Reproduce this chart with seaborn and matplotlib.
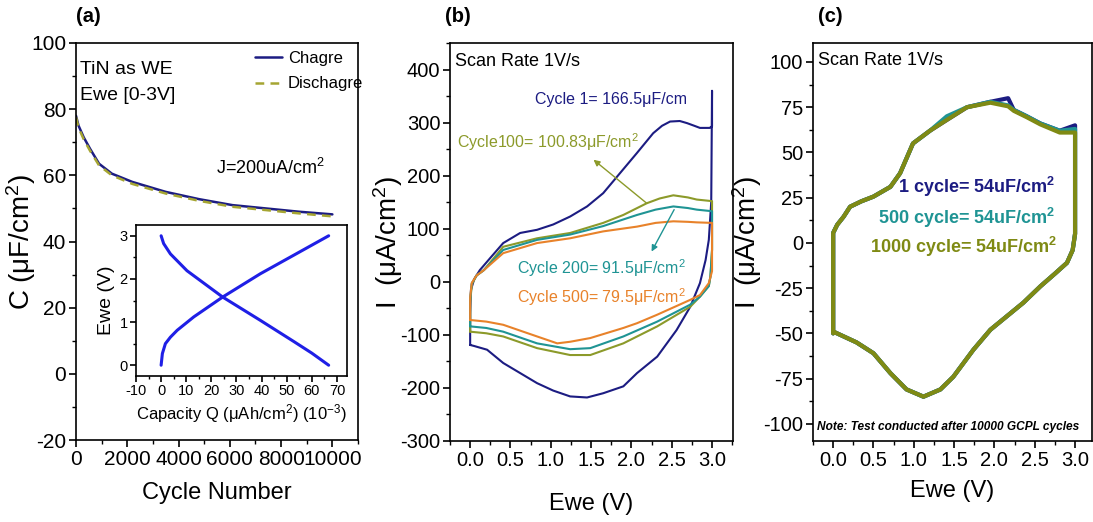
import matplotlib
matplotlib.use("Agg")
import matplotlib.pyplot as plt
from matplotlib.ticker import MultipleLocator, FormatStrFormatter
import seaborn as sns

# ---------------- data ----------------
# (a) capacitance vs cycle number
cycles = [0, 100, 300, 550, 900, 1400, 2200, 3500, 4800, 6100, 7400, 8700, 10000]
c_charge = [78, 75, 71.5, 68, 63.5, 60.5, 58, 55, 52.8, 51, 50, 49, 48.2]
c_discharge = [77.6, 74.4, 70.9, 67.4, 63, 60, 57.4, 54.5, 52.3, 50.5, 49.5, 48.5, 47.6]

# (a) inset: galvanostatic charge / discharge
q_charge = [0, 0.5, 1.7, 3.7, 6.4, 13, 24.5, 39.5, 52.8, 66.7]
e_charge = [0, 0.27, 0.5, 0.65, 0.81, 1.12, 1.58, 2.12, 2.55, 3.0]
q_discharge = [0, 1.0, 3.7, 10.3, 24.5, 39.5, 52.8, 60, 66.7]
e_discharge = [3.0, 2.82, 2.58, 2.19, 1.58, 1.04, 0.55, 0.28, 0.0]

# (b) cyclic voltammograms after n cycles (closed loops)
v_c1 = [0.0, 0.0, 0.01, 0.05, 0.12, 0.25, 0.41, 0.62, 0.83, 1.03, 1.24, 1.45, 1.65,
        1.86, 2.07, 2.27, 2.38, 2.48, 2.6, 2.69, 2.78, 2.85, 2.97, 3.0, 3.0,
        2.99, 2.96, 2.92, 2.85, 2.73, 2.56, 2.32, 2.07, 1.9, 1.65, 1.45, 1.24, 1.03,
        0.83, 0.62, 0.41, 0.21, 0.05, 0.0]
i_c1 = [-119, -60, -15, 5, 22, 45, 73, 92, 98, 108, 123, 142, 167,
        205, 243, 280, 294, 302, 303, 299, 294, 290, 290, 293, 360,
        150, 79, 41, -2.5, -47, -91, -141, -172, -197, -210, -218, -216, -205,
        -191, -172, -153, -128, -121, -119]

v_c100 = [0.0, 0.0, 0.02, 0.08, 0.17, 0.41, 0.83, 1.24, 1.65, 1.9, 2.19, 2.35, 2.52,
          2.7, 2.81, 3.0,
          3.0, 2.98, 2.96, 2.85, 2.73, 2.32, 1.9, 1.49, 1.24, 0.83, 0.62, 0.41, 0.2,
          0.0]
i_c100 = [-94, -40, -5, 12, 22, 66, 82, 92, 111, 126, 148, 157, 163,
          159, 155, 152,
          60, 10, -8, -28, -47, -84, -116, -138, -138, -125, -114, -103, -97,
          -94]

v_c200 = [0.0, 0.0, 0.02, 0.08, 0.17, 0.41, 0.83, 1.24, 1.65, 2.07, 2.3, 2.52, 2.7,
          2.81, 3.0,
          3.0, 2.98, 2.96, 2.85, 2.73, 2.32, 1.9, 1.49, 1.24, 0.83, 0.62, 0.41, 0.2,
          0.0]
i_c200 = [-84, -35, -3, 12, 22, 60, 79, 89, 105, 126, 136, 142, 139,
          136, 133,
          60, 10, -8, -28, -43, -75, -103, -125, -127, -116, -105, -94, -87,
          -84]

v_c500 = [0.0, 0.0, 0.02, 0.08, 0.17, 0.41, 0.83, 1.24, 1.65, 2.07, 2.3, 2.52, 2.7,
          2.81, 3.0,
          3.0, 3.0, 2.96, 2.85, 2.73, 2.32, 2.07, 1.9, 1.49, 1.24, 1.08, 0.83, 0.62,
          0.41, 0.2, 0.0]
i_c500 = [-72, -30, -2, 12, 22, 54, 73, 82, 95, 104, 111, 114, 113,
          112, 111,
          41, 20, -2.5, -25, -34, -62, -78, -87, -106, -113, -116, -103, -92,
          -81, -75, -72]

# (c) cyclic voltammograms recorded after 10000 GCPL cycles
v_cv = [0.0, 0.0, 0.0, 0.05, 0.13, 0.21, 0.35, 0.5, 0.71, 0.83, 0.99, 1.2, 1.41,
        1.66, 1.95, 2.17, 2.24, 2.4, 2.57, 2.81, 3.0,
        3.0, 3.0, 2.97, 2.9, 2.75, 2.57, 2.36, 1.95, 1.74, 1.49, 1.33, 1.12, 0.91,
        0.71, 0.5, 0.29, 0.0]
i_cyc1 = [-50, -20, 5.5, 10, 14.5, 20, 23, 25.6, 31, 38.5, 55, 62, 68,
          75, 78, 80, 73.5, 70, 66, 62, 65,
          65, 5, -4, -11, -17, -24, -33, -48, -59, -74, -81, -85, -81,
          -72, -61, -55, -49]
i_cyc500 = [-50, -20, 5.5, 10, 14.5, 20, 23, 25.6, 31, 38.5, 55, 62, 70,
            75, 78, 76, 73.5, 70, 66, 62, 63,
            63, 5, -4, -11, -17, -24, -33, -48, -59, -74, -81, -85, -81,
            -72, -61, -55, -49]
i_cyc1000 = [-50, -20, 5.5, 10, 14.5, 20, 23, 25.6, 31, 38.5, 55, 62, 68,
             75, 77.5, 75.5, 73, 69.5, 65.5, 61, 61,
             61, 5, -4, -11, -17, -24, -33, -48, -59, -74, -81, -85, -81,
             -72, -61, -55, -49]

# ---------------- style ----------------
sns.set_theme(style="ticks")
plt.rcParams["font.family"] = ["Liberation Sans", "DejaVu Sans"]
plt.rcParams["mathtext.fontset"] = "custom"
plt.rcParams["mathtext.rm"] = "Liberation Sans"
plt.rcParams["mathtext.it"] = "Liberation Sans:italic"
plt.rcParams["mathtext.bf"] = "Liberation Sans:bold"
plt.rcParams["axes.unicode_minus"] = False
plt.rcParams["axes.linewidth"] = 1.2
plt.rcParams["xtick.major.width"] = 1.2
plt.rcParams["ytick.major.width"] = 1.2
plt.rcParams["xtick.minor.width"] = 1.0
plt.rcParams["ytick.minor.width"] = 1.0
plt.rcParams["xtick.major.size"] = 5
plt.rcParams["ytick.major.size"] = 5
plt.rcParams["xtick.minor.size"] = 3
plt.rcParams["ytick.minor.size"] = 3
plt.rcParams["xtick.color"] = "black"
plt.rcParams["ytick.color"] = "black"
plt.rcParams["axes.edgecolor"] = "black"
plt.rcParams["text.color"] = "black"
plt.rcParams["axes.labelcolor"] = "black"

NAVY = "#1c1c82"
OLIVE = "#8c9a2a"
TEAL = "#1f9494"
ORANGE = "#e8822a"
DOLIVE = "#7f8a14"
INSET_BLUE = "#1f1fe6"

TICK_FS = 14.5
XLABEL_FS = 17
YLABEL_FS = 20

fig = plt.figure(figsize=(10.93, 5.22), dpi=100)
W, H = 1093, 522


def rect(x0, y0, x1, y1):
    return [x0 / W, 1 - y1 / H, (x1 - x0) / W, (y1 - y0) / H]


def style_axes(ax, fs=TICK_FS):
    ax.tick_params(axis="both", which="both", direction="out", top=False, right=False,
                   labelsize=fs, pad=2)
    for s in ax.spines.values():
        s.set_visible(True)
        s.set_color("black")


def loop(ax, x, y, color, lw):
    # draw points in the given order (closed CV loops revisit x values)
    sns.lineplot(x=x, y=y, ax=ax, color=color, lw=lw, sort=False, estimator=None)


# ---------------- (a) ----------------
ax_a = fig.add_axes(rect(76, 43, 358, 440))
sns.lineplot(x=cycles, y=c_charge, ax=ax_a, color=NAVY, lw=1.8, label="Chagre",
             estimator=None)
sns.lineplot(x=cycles, y=c_discharge, ax=ax_a, color="#a5a532", lw=1.8,
             linestyle=(0, (3.5, 2.5)), label="Dischagre", estimator=None)
ax_a.set_xlim(0, 11000)
ax_a.set_ylim(-20, 100)
ax_a.xaxis.set_major_locator(MultipleLocator(2000))
ax_a.xaxis.set_minor_locator(MultipleLocator(1000))
ax_a.yaxis.set_major_locator(MultipleLocator(20))
ax_a.yaxis.set_minor_locator(MultipleLocator(10))
style_axes(ax_a, 15)
ax_a.set_xlabel("Cycle Number", fontsize=XLABEL_FS)
ax_a.xaxis.set_label_coords(0.5, -0.105)
ax_a.set_ylabel("C (μF/cm$^2$)", fontsize=YLABEL_FS)
ax_a.yaxis.set_label_coords(-0.135, 0.5)
ax_a.legend(loc="upper left", bbox_to_anchor=(0.63, 0.985), frameon=False,
            fontsize=12, handlelength=1.6, borderaxespad=0, borderpad=0.1,
            labelspacing=0.65, handletextpad=0.35)
ax_a.text(0.015, 0.932, "TiN as WE", transform=ax_a.transAxes, fontsize=14,
          va="center", ha="left")
ax_a.text(0.015, 0.868, "Ewe [0-3V]", transform=ax_a.transAxes, fontsize=14,
          va="center", ha="left")
ax_a.text(0.885, 0.685, "J=200uA/cm$^2$", transform=ax_a.transAxes,
          fontsize=13, va="center", ha="right")
fig.text(88 / W, 1 - 17 / H, "(a)", fontsize=14.5, fontweight="bold", ha="center",
         va="center")

# inset
ax_in = fig.add_axes(rect(136, 225, 347, 376))
loop(ax_in, q_charge, e_charge, INSET_BLUE, 2.2)
loop(ax_in, q_discharge, e_discharge, INSET_BLUE, 2.2)
ax_in.set_xlim(-10, 74)
ax_in.set_ylim(-0.25, 3.25)
ax_in.xaxis.set_major_locator(MultipleLocator(10))
ax_in.xaxis.set_minor_locator(MultipleLocator(5))
ax_in.yaxis.set_major_locator(MultipleLocator(1))
ax_in.yaxis.set_minor_locator(MultipleLocator(0.5))
style_axes(ax_in, 10.5)
ax_in.tick_params(length=4)
ax_in.tick_params(which="minor", length=2.5)
ax_in.set_xlabel("Capacity Q (μAh/cm$^2$) (10$^{-3}$)", fontsize=12, labelpad=3)
ax_in.set_ylabel("Ewe (V)", fontsize=14, labelpad=3)

# ---------------- (b) ----------------
ax_b = fig.add_axes(rect(450, 43, 733, 441))
for v, i, col in ((v_c1, i_c1, NAVY), (v_c100, i_c100, OLIVE),
                  (v_c200, i_c200, TEAL), (v_c500, i_c500, ORANGE)):
    loop(ax_b, v, i, col, 1.5)
ax_b.set_xlim(-0.25, 3.26)
ax_b.set_ylim(-300, 450)
ax_b.xaxis.set_major_locator(MultipleLocator(0.5))
ax_b.xaxis.set_minor_locator(MultipleLocator(0.25))
ax_b.yaxis.set_major_locator(MultipleLocator(100))
ax_b.yaxis.set_minor_locator(MultipleLocator(50))
ax_b.xaxis.set_major_formatter(FormatStrFormatter("%.1f"))
style_axes(ax_b)
ax_b.set_xlabel("Ewe (V)", fontsize=XLABEL_FS)
ax_b.xaxis.set_label_coords(0.5, -0.13)
ax_b.set_ylabel("I  (μA/cm$^2$)", fontsize=YLABEL_FS)
ax_b.yaxis.set_label_coords(-0.158, 0.5)
ax_b.text(-0.19, 415, "Scan Rate 1V/s", fontsize=13, va="center", ha="left")
ax_b.text(0.81, 343, "Cycle 1= 166.5μF/cm", color=NAVY, fontsize=11.5, va="center")
ax_b.text(-0.16, 264, "Cycle100= 100.83μF/cm$^2$", color=OLIVE, fontsize=11.5,
          va="center")
ax_b.text(0.58, 26, "Cycle 200= 91.5μF/cm$^2$", color=TEAL, fontsize=11.5, va="center")
ax_b.text(0.58, -28, "Cycle 500= 79.5μF/cm$^2$", color=ORANGE, fontsize=11.5,
          va="center")
ax_b.annotate("", xy=(1.53, 230), xytext=(2.19, 148),
              arrowprops=dict(arrowstyle="-|>", color=OLIVE, lw=1.0, mutation_scale=9,
                              shrinkA=0, shrinkB=0))
ax_b.annotate("", xy=(2.25, 57), xytext=(2.53, 136),
              arrowprops=dict(arrowstyle="-|>", color=TEAL, lw=1.0, mutation_scale=9,
                              shrinkA=0, shrinkB=0))
fig.text(458 / W, 1 - 17 / H, "(b)", fontsize=14.5, fontweight="bold", ha="center",
         va="center")

# ---------------- (c) ----------------
ax_c = fig.add_axes(rect(813, 43, 1092, 441))
for i, col in ((i_cyc1, NAVY), (i_cyc500, TEAL), (i_cyc1000, DOLIVE)):
    loop(ax_c, v_cv, i, col, 3.0)
ax_c.set_xlim(-0.25, 3.21)
ax_c.set_ylim(-109.5, 110.5)
ax_c.xaxis.set_major_locator(MultipleLocator(0.5))
ax_c.xaxis.set_minor_locator(MultipleLocator(0.25))
ax_c.yaxis.set_major_locator(MultipleLocator(25))
ax_c.yaxis.set_minor_locator(MultipleLocator(12.5))
ax_c.xaxis.set_major_formatter(FormatStrFormatter("%.1f"))
style_axes(ax_c)
ax_c.set_xlabel("Ewe (V)", fontsize=XLABEL_FS)
ax_c.xaxis.set_label_coords(0.5, -0.098)
ax_c.set_ylabel("I  (μA/cm$^2$)", fontsize=YLABEL_FS)
ax_c.yaxis.set_label_coords(-0.175, 0.5)
ax_c.text(-0.19, 101, "Scan Rate 1V/s", fontsize=13, va="center", ha="left")
ax_c.text(2.75, 31, "1 cycle= 54uF/cm$^\\mathbf{2}$", color=NAVY, fontsize=13,
          fontweight="bold", ha="right", va="center")
ax_c.text(2.75, 14, "500 cycle= 54uF/cm$^\\mathbf{2}$", color=TEAL, fontsize=13,
          fontweight="bold", ha="right", va="center")
ax_c.text(2.78, -2, "1000 cycle= 54uF/cm$^\\mathbf{2}$", color=DOLIVE, fontsize=13,
          fontweight="bold", ha="right", va="center")
ax_c.text(-0.2, -101.5, "Note: Test conducted after 10000 GCPL cycles", fontsize=8.6,
          fontweight="bold", fontstyle="italic", ha="left", va="center")
fig.text(830 / W, 1 - 17 / H, "(c)", fontsize=14.5, fontweight="bold", ha="center",
         va="center")

fig.savefig("out.png", dpi=100)
